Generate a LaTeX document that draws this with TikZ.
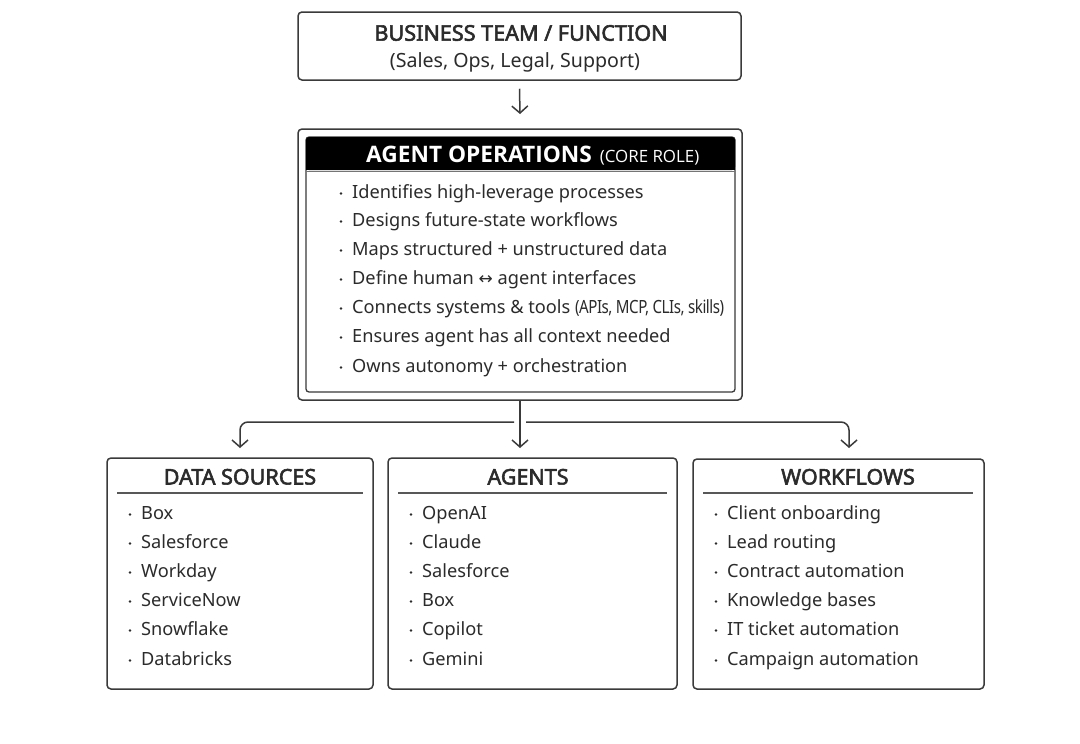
\documentclass[tikz,border=0pt]{standalone}
\usepackage{fontspec}
\setmainfont{Noto Sans}
\newfontfamily\symf{DejaVu Sans}
\newfontfamily\medf{Noto Sans}[FakeBold=2.5]
\newfontfamily\osans{Open Sans}
\usetikzlibrary{arrows.meta}
\definecolor{ink}{HTML}{2B2B2B}
\definecolor{edge}{HTML}{3A3A3A}
\begin{document}
\begin{tikzpicture}[x=1pt,y=-1pt,
  frame/.style={draw=edge, line width=1.5pt, rounded corners=4pt, inner sep=0pt},
  item/.style={anchor=west, inner sep=0pt, text=ink, text height=12.9pt, text depth=0pt, font=\fontsize{18.2}{20}\selectfont},
  bdot/.style={circle, fill=ink, inner sep=0pt, minimum size=2.8pt},
  btitle/.style={inner sep=0pt, text=ink, text height=15pt, text depth=0pt, font=\medf\fontsize{21.5}{23}\selectfont},
  conn/.style={draw=edge, line width=1.5pt, -{Straight Barb[length=7pt,width=16pt,line width=1.5pt]}},
  rulel/.style={draw=edge!85, line width=1.6pt}
]
\useasboundingbox[fill=white] (0,0) rectangle (1080,744);

% ---- top box
\node[frame, minimum width=443pt, minimum height=68pt] (biz) at (519.5,46) {};
\node[inner sep=0pt, text=ink, text height=15.4pt, text depth=0pt, font=\medf\fontsize{21.6}{23}\selectfont] (bizt) at (521,33) {BUSINESS TEAM / FUNCTION};
\node[inner sep=0pt, text=ink, text height=14pt, text depth=0pt, font=\fontsize{19.6}{21}\selectfont] (bizs) at (515,60) {(Sales, Ops, Legal, Support)};

% ---- main box
\node[frame, minimum width=444pt, minimum height=271pt] (ops) at (520,264.5) {};
\node[draw=edge, line width=1.3pt, rounded corners=3pt, inner sep=0pt, minimum width=429pt, minimum height=255pt] (opsin) at (520.5,264.5) {};
\fill[black, rounded corners=3pt] (306,137) rectangle (735,170);
\fill[black] (306,155) rectangle (735,170);
\draw[edge!70, line width=0.8pt] (306,171.5) -- (735,171.5);
\node[anchor=base west, inner sep=0pt, text=white] (hdr) at (366,162.5)
  {{\osans\bfseries\fontsize{22.7}{24}\selectfont AGENT OPERATIONS}\hspace{8pt}{\osans\fontsize{16.9}{18}\selectfont (CORE ROLE)}};

\foreach \t [count=\i] in {
  {Identifies high-leverage processes},
  {Designs future-state workflows},
  {Maps structured + unstructured data},
  {Define human {\symf\fontsize{17}{18}\selectfont ↔} agent interfaces},
  {Connects systems \& tools \scalebox{0.83}[1]{\addfontfeature{LetterSpace=-3}(APIs, MCP, CLIs, skills)}},
  {Ensures agent has all context needed},
  {Owns autonomy + orchestration}} {
  \pgfmathsetmacro{\yy}{{192,220,249,278,307,336,366}[\i-1]}
  \node[bdot] (od\i) at (341,\yy+1.5) {};
  \node[item] (oi\i) at (352,\yy) {\t};
}

% ---- connectors
\coordinate (jl) at (514,422);
\coordinate (jr) at (526,422);
\draw[conn] (ops.south) -- (520,448) coordinate (am);
\draw[conn, rounded corners=8pt] (jl) -- (240,422) -- (240,448) coordinate (al);
\draw[conn, rounded corners=8pt] (jr) -- (849,422) -- (849,448) coordinate (ar);
\draw[conn] (biz.south) ++(0,8) coordinate (ts) -- (520,114) coordinate (te);

% ---- bottom boxes
\node[frame, minimum width=266pt, minimum height=231pt] (ds) at (240,573.5) {};
\node[frame, minimum width=289pt, minimum height=231pt] (ag) at (532.5,573.5) {};
\node[frame, minimum width=291pt, minimum height=230pt] (wf) at (838.5,574) {};

\node[btitle] (dst) at (240,477) {DATA SOURCES};
\node[btitle] (agt) at (528,477) {AGENTS};
\node[btitle] (wft) at (848,477) {WORKFLOWS};
\draw[rulel] (117,493) -- (363,493);
\draw[rulel] (398,493) -- (667,493);
\draw[rulel] (703,493) -- (973,493);

\foreach \t [count=\i] in {Box, Salesforce, Workday, ServiceNow, Snowflake, Databricks} {
  \pgfmathsetmacro{\yy}{{513,542,571,600,629,659}[\i-1]}
  \node[bdot] (dd\i) at (130,\yy+1.5) {};
  \node[item] (di\i) at (141,\yy) {\t};
}
\foreach \t [count=\i] in {OpenAI, Claude, Salesforce, Box, Copilot, Gemini} {
  \pgfmathsetmacro{\yy}{{513,542,571,600,629,659}[\i-1]}
  \node[bdot] (ad\i) at (411,\yy+1.5) {};
  \node[item] (ai\i) at (422,\yy) {\t};
}
\foreach \t [count=\i] in {Client onboarding, Lead routing, Contract automation, Knowledge bases, IT ticket automation, Campaign automation} {
  \pgfmathsetmacro{\yy}{{513,542,571,600,629,659}[\i-1]}
  \node[bdot] (wd\i) at (716,\yy+1.5) {};
  \node[item] (wi\i) at (727,\yy) {\t};
}
\end{tikzpicture}
\end{document}
